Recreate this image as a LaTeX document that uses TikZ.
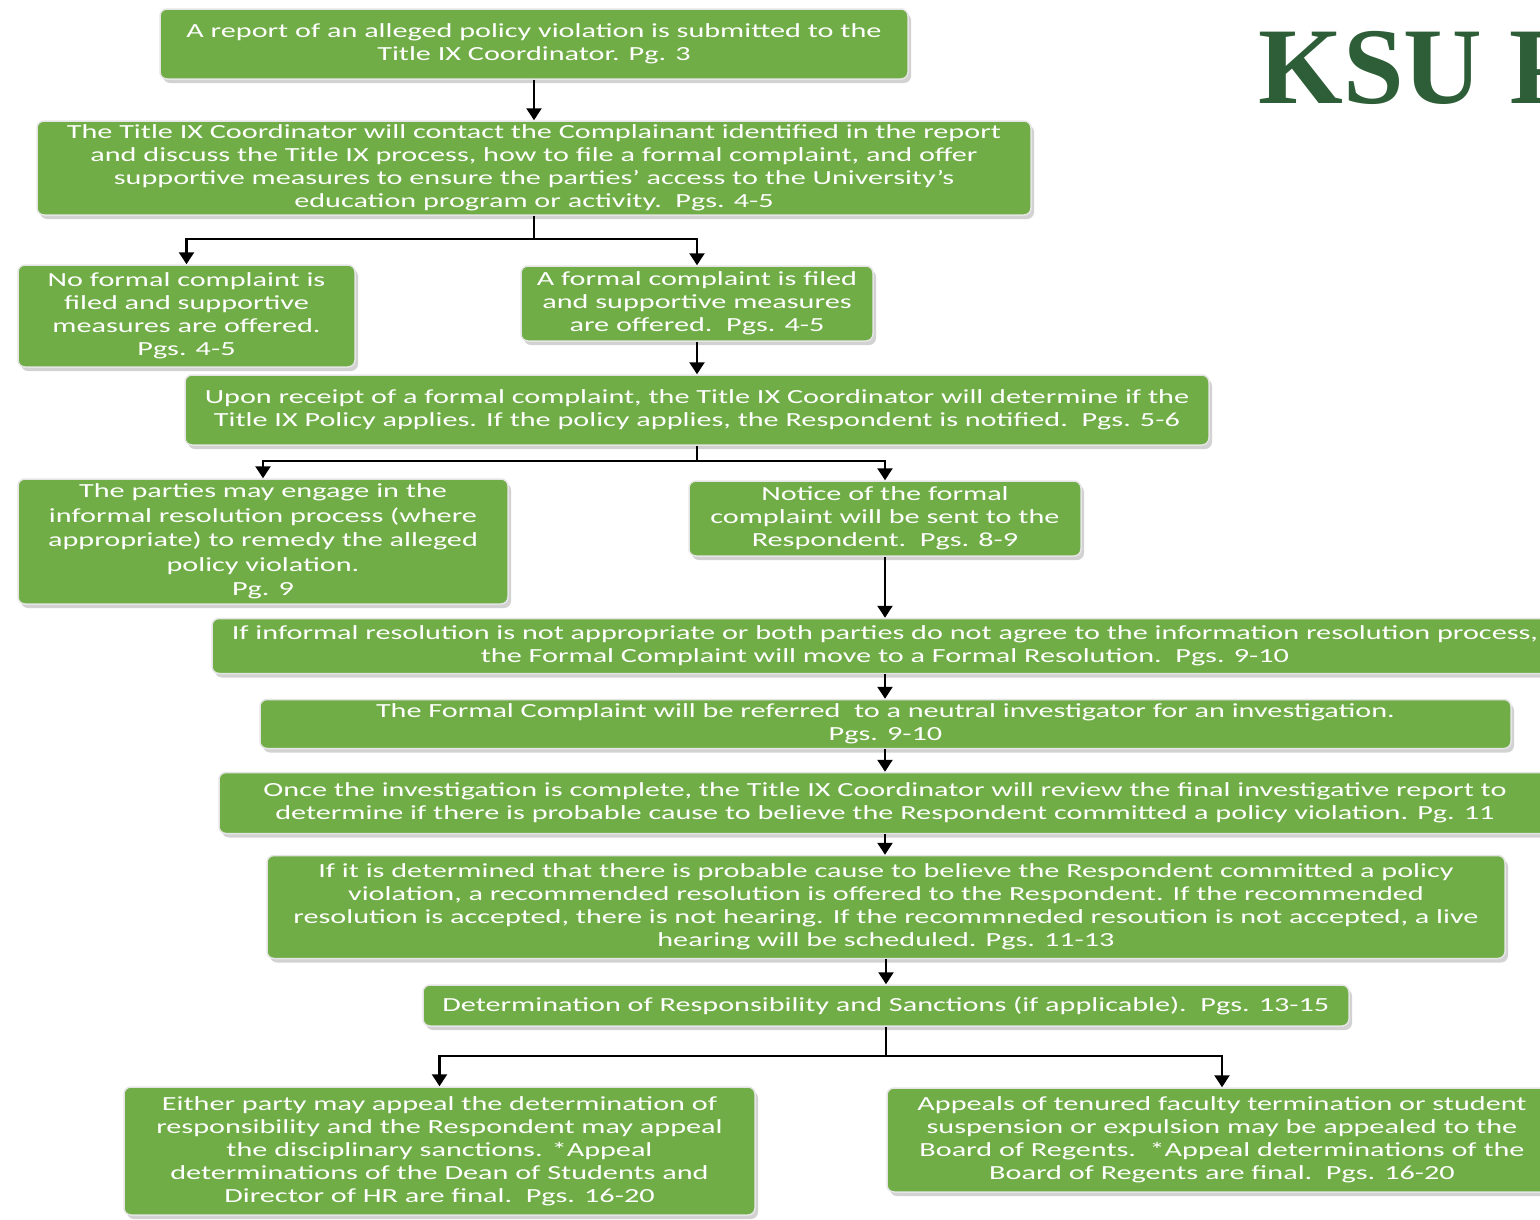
\documentclass[tikz,border=0pt]{standalone}
\usepackage{fontspec}
\setmainfont{Carlito}[FakeStretch=1.51]
\newfontfamily\titlefont{Liberation Serif}
\usetikzlibrary{arrows.meta,shadows}
\definecolor{boxgreen}{HTML}{70AD47}
\definecolor{titlegreen}{HTML}{2E5E37}
\tikzset{
  flowbox/.style={rectangle, rounded corners=7pt, fill=boxgreen, draw=white!90!black,
    line width=1.5pt, text=white, align=center, font=\fontsize{20}{23}\selectfont,
    inner sep=0pt,
    drop shadow={shadow xshift=3pt, shadow yshift=-4pt, opacity=0.35}},
  link/.style={line width=2.5pt, black},
  arrowlink/.style={link, -{Triangle[width=15pt,length=12pt]}},
}
\begin{document}
\begin{tikzpicture}[x=1pt,y=-1pt]
\useasboundingbox (0,0) rectangle (1540,1219);
\clip (0,0) rectangle (1540,1219);
\fill[white] (0,0) rectangle (1540,1219);

\node[anchor=base west, text=titlegreen, font=\titlefont\bfseries\fontsize{109}{109}\selectfont, inner sep=0pt] (title) at (1258,103) {KSU P};

\node[flowbox, minimum width=748pt, minimum height=70pt] (A) at (534,44)
 {A report of an alleged policy violation is submitted to the\\Title IX Coordinator. Pg. 3};
\node[flowbox, minimum width=994pt, minimum height=94pt] (B) at (534,168)
 {The Title IX Coordinator will contact the Complainant identified in the report\\
  and discuss the Title IX process, how to file a formal complaint, and offer\\
  supportive measures to ensure the parties’ access to the University’s\\
  education program or activity.\ \ Pgs. 4-5};
\node[flowbox, minimum width=337pt, minimum height=102pt] (C) at (186.5,316)
 {No formal complaint is\\filed and supportive\\measures are offered.\\Pgs. 4-5};
\node[flowbox, minimum width=352pt, minimum height=75pt] (D) at (697,303.5)
 {A formal complaint is filed\\and supportive measures\\are offered.\ \ Pgs. 4-5};
\node[flowbox, minimum width=1024pt, minimum height=70pt] (E) at (697,410)
 {Upon receipt of a formal complaint, the Title IX Coordinator will determine if the\\
  Title IX Policy applies. If the policy applies, the Respondent is notified.\ \ Pgs. 5-6};
\node[flowbox, minimum width=490pt, minimum height=125pt, font=\fontsize{20}{24.5}\selectfont] (F) at (263,541.5)
 {The parties may engage in the\\informal resolution process (where\\appropriate) to remedy the alleged\\policy violation.\\Pg. 9};
\node[flowbox, minimum width=392pt, minimum height=75pt] (G) at (885,518.5)
 {Notice of the formal\\complaint will be sent to the\\Respondent.\ \ Pgs. 8-9};
\node[flowbox, minimum width=1346pt, minimum height=55pt] (H) at (885,646)
 {If informal resolution is not appropriate or both parties do not agree to the information resolution process,\\
  the Formal Complaint will move to a Formal Resolution.\ \ Pgs. 9-10};
\node[flowbox, minimum width=1251pt, minimum height=49pt] (I) at (885.5,724)
 {The Formal Complaint will be referred\ \ to a neutral investigator for an investigation.\\Pgs. 9-10};
\node[flowbox, minimum width=1332pt, minimum height=61pt] (J) at (885,803)
 {Once the investigation is complete, the Title IX Coordinator will review the final investigative report to\\
  determine if there is probable cause to believe the Respondent committed a policy violation. Pg. 11};
\node[flowbox, minimum width=1238pt, minimum height=103pt] (K) at (886,907)
 {If it is determined that there is probable cause to believe the Respondent committed a policy\\
  violation, a recommended resolution is offered to the Respondent. If the recommended\\
  resolution is accepted, there is not hearing. If the recommneded resoution is not accepted, a live\\
  hearing will be scheduled. Pgs. 11-13};
\node[flowbox, minimum width=926pt, minimum height=41pt] (L) at (886,1005.5)
 {Determination of Responsibility and Sanctions (if applicable).\ \ Pgs. 13-15};
\node[flowbox, minimum width=631pt, minimum height=128pt] (M) at (439.5,1151)
 {Either party may appeal the determination of\\responsibility and the Respondent may appeal\\the disciplinary sanctions. *Appeal\\determinations of the Dean of Students and\\Director of HR are final.\ \ Pgs. 16-20};
\node[flowbox, minimum width=670pt, minimum height=104pt] (N) at (1222,1140)
 {Appeals of tenured faculty termination or student\\suspension or expulsion may be appealed to the\\Board of Regents.\ \ *Appeal determinations of the\\Board of Regents are final.\ \ Pgs. 16-20};

\coordinate (bsplit) at (534,239);
\coordinate (esplit) at (697,461);
\coordinate (lsplit) at (886,1056);

\draw[arrowlink] (A.south) -- (A.south |- B.north);
\draw[link] (B.south) -- (bsplit);
\draw[arrowlink] (bsplit) -| (C.north);
\draw[arrowlink] (bsplit) -| (D.north);
\draw[arrowlink] (D.south) -- (D.south |- E.north);
\draw[link] (E.south) -- (esplit);
\draw[arrowlink] (esplit) -| (F.north);
\draw[arrowlink] (esplit) -| (G.north);
\draw[arrowlink] (G.south) -- (G.south |- H.north);
\draw[arrowlink] (H.south) -- (H.south |- I.north);
\draw[arrowlink] (I.south -| H.south) -- (H.south |- J.north);
\draw[arrowlink] (J.south) -- (J.south |- K.north);
\draw[arrowlink] (K.south) -- (K.south |- L.north);
\draw[link] (L.south) -- (lsplit);
\draw[arrowlink] (lsplit) -| (M.north);
\draw[arrowlink] (lsplit) -| (N.north);
\end{tikzpicture}
\end{document}
